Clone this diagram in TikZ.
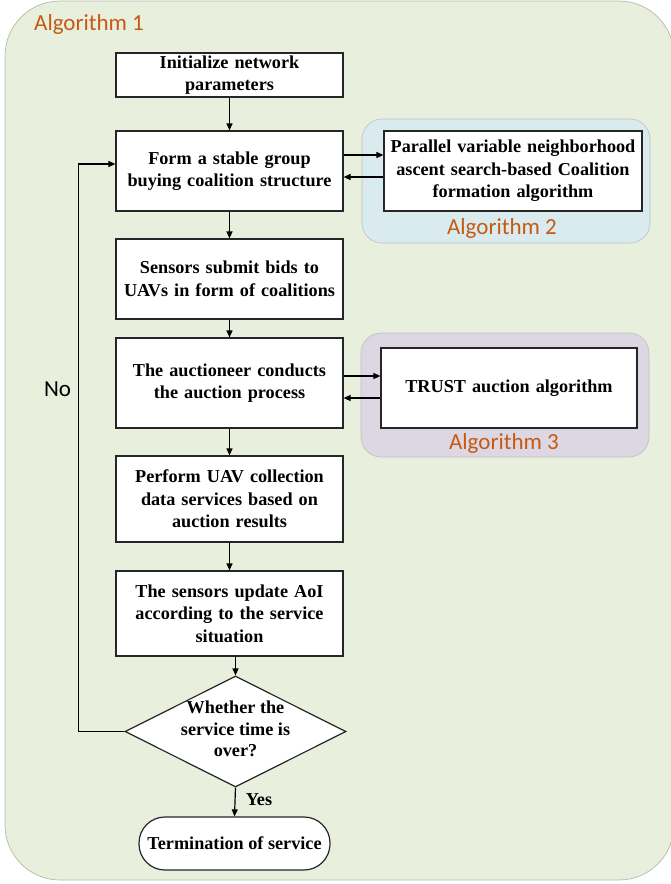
\documentclass[tikz,border=0pt]{standalone}
\usepackage{fontspec}
\setmainfont{Liberation Serif}
\newfontfamily\calfont{Carlito}
\usetikzlibrary{shapes.geometric,arrows.meta}
\definecolor{outerfill}{HTML}{E9EFDD}
\definecolor{outerline}{HTML}{B4B8AE}
\definecolor{bluefill}{HTML}{DAEBF0}
\definecolor{purplefill}{HTML}{DCD7E3}
\definecolor{algorange}{HTML}{C55A11}
\newcommand\boxfont{\fontsize{18.2}{22.5}\selectfont\bfseries}
\begin{document}
\begin{tikzpicture}[x=1pt,y=-1pt,
  flowbox/.style={draw=black!85,fill=white,line width=1.2pt,align=center,
    font=\boxfont,inner sep=0pt,text width=225pt,minimum width=227pt},
  arr/.style={line width=1.2pt,-{Triangle[length=7pt,width=6pt]}},
  panel/.style={draw=black!25,line width=0.6pt,rounded corners=20pt},
  algtext/.style={font=\calfont\fontsize{23}{26}\selectfont,text=algorange,inner sep=0pt}]
\useasboundingbox (0,0) rectangle (671,884);
% outer panel
\draw[fill=outerfill,draw=outerline,line width=0.7pt,rounded corners=55pt] (5,1) rectangle (674,880);
\node[algtext,anchor=west] (alg1) at (34,24) {Algorithm 1};
% side panels
\draw[panel,fill=bluefill] (362,119) rectangle (650,243);
\draw[panel,fill=purplefill] (361,333) rectangle (649,457);
\node[algtext] (alg2) at (502,228) {Algorithm 2};
\node[algtext] (alg3) at (504,443) {Algorithm 3};
% main boxes
\node[flowbox,minimum height=44pt] (b1) at (229.5,75) {Initialize network\\parameters};
\node[flowbox,minimum height=80pt] (b2) at (229.5,171) {Form a stable group\\buying coalition structure};
\node[flowbox,minimum height=80pt] (b3) at (229.5,279) {Sensors submit bids to\\UAVs in form of coalitions};
\node[flowbox,minimum height=90pt] (b4) at (229.5,383) {The auctioneer conducts\\the auction process};
\node[flowbox,minimum height=86pt] (b5) at (229.5,499) {Perform UAV collection\\data services based on\\auction results};
\node[flowbox,minimum height=85pt] (b6) at (229.5,613.5) {The sensors update AoI\\according to the service\\situation};
\node[flowbox,minimum height=80pt,minimum width=258pt,text width=256pt] (a2) at (513,171) {Parallel variable neighborhood\\ascent search-based Coalition\\formation algorithm};
\node[flowbox,minimum height=80pt,minimum width=256pt,text width=250pt] (a3) at (509,388) {TRUST auction algorithm};
% decision
\node[diamond,draw=black!85,fill=white,line width=1.2pt,inner sep=0pt,minimum width=221pt,minimum height=111pt] (d) at (235.5,731.5) {};
\node[align=center,font=\fontsize{18.2}{21.5}\selectfont\bfseries,inner sep=0pt] (dtext) at (235.5,729) {Whether the\\service time is\\over?};
\node[draw=black!85,fill=white,line width=1.2pt,rounded corners=26pt,minimum width=191pt,minimum height=53pt,inner sep=0pt,
  font=\boxfont] (t) at (234.5,843.5) {Termination of service};
% arrows
\draw[arr] (b1) -- (b2);
\draw[arr] (b2) -- (b3);
\draw[arr] (b3) -- (b4);
\draw[arr] (b4) -- (b5);
\draw[arr] (b5) -- (b6);
\draw[arr] (d.north |- b6.south) -- (d.north);
\draw[arr] (d.south) -- (t.north);
\node[font=\boxfont,inner sep=0pt] (yes) at (259,800) {Yes};
\draw[arr] (d.west) -- ++(-46,0) |- ([yshift=7pt]b2.west);
\node[font=\calfont\fontsize{23}{26}\selectfont,inner sep=0pt] (no) at (57.5,389) {No};
% side arrows
\coordinate (r2a) at ([yshift=16pt]b2.east);
\coordinate (r2b) at ([yshift=-6pt]b2.east);
\draw[arr] (r2a) -- (r2a -| a2.west);
\draw[arr] (r2b -| a2.west) -- (r2b);
\coordinate (r4a) at ([yshift=7pt]b4.east);
\coordinate (r4b) at ([yshift=-15pt]b4.east);
\draw[arr] (r4a) -- (r4a -| a3.west);
\draw[arr] (r4b -| a3.west) -- (r4b);
\end{tikzpicture}
\end{document}
